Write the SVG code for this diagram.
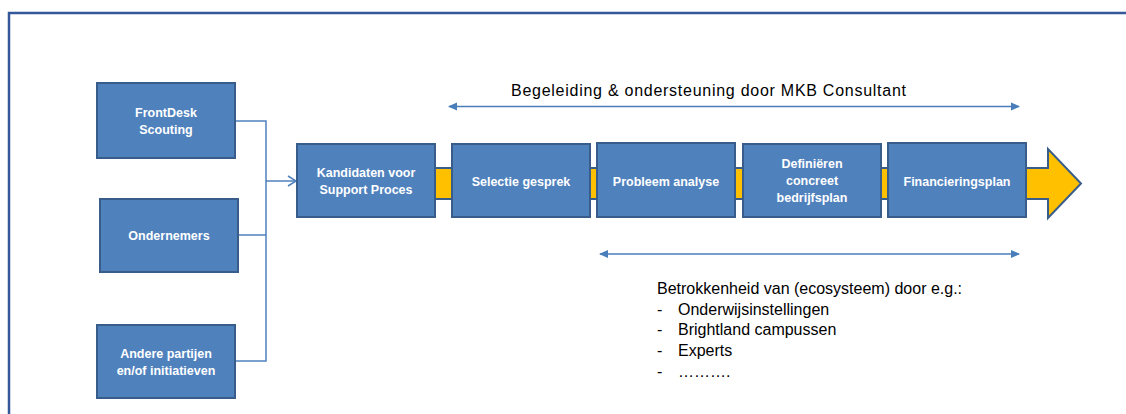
<svg xmlns="http://www.w3.org/2000/svg" width="1126" height="414" viewBox="0 0 1126 414">
<style>
.box{fill:#4f81bd;stroke:#385d8a;stroke-width:2}
.bt{fill:#fff;font-family:"Liberation Sans",Arial,sans-serif;font-weight:bold;font-size:12.5px;text-anchor:middle}
.conn{fill:none;stroke:#4f81bd;stroke-width:1.5}
.da{fill:none;stroke:#4a7ebb;stroke-width:1.5}
.lt{fill:#000;font-family:"Liberation Sans",Arial,sans-serif;font-size:16px}
</style>
<defs>
<marker id="open" markerWidth="10" markerHeight="12" refX="9" refY="6" orient="auto" markerUnits="userSpaceOnUse">
<path d="M1,1 L9,6 L1,11" fill="none" stroke="#4f81bd" stroke-width="1.5"/>
</marker>
<marker id="tri" markerWidth="10" markerHeight="10" refX="8" refY="5" orient="auto-start-reverse" markerUnits="userSpaceOnUse">
<path d="M0,1 L9,5 L0,9 Z" fill="#4a7ebb"/>
</marker>
</defs>
<rect width="1126" height="414" fill="#fff"/>
<path d="M9,414 V13 H1126" fill="none" stroke="#34589a" stroke-width="2.5"/>

<g id="process-arrow">
<path d="M435,168 H1048 V149 L1081,183.5 L1048,218 V199 H435 Z" fill="#ffc000" stroke="#385d8a" stroke-width="2"/>
</g>

<g id="connectors">
<path class="conn" d="M235,121 H266 V361 H235"/>
<path class="conn" d="M238,235 H266"/>
<path class="conn" d="M266,181 H296" marker-end="url(#open)"/>
<path class="da" d="M449,106.5 H1019" marker-start="url(#tri)" marker-end="url(#tri)"/>
<path class="da" d="M600,254 H1019" marker-start="url(#tri)" marker-end="url(#tri)"/>
</g>

<g id="frontdesk">
<rect class="box" x="97" y="83" width="138" height="75"/>
<text class="bt" x="166" y="117">FrontDesk</text>
<text class="bt" x="166" y="134">Scouting</text>
</g>
<g id="ondernemers">
<rect class="box" x="100" y="199" width="138" height="73"/>
<text class="bt" x="169" y="240">Ondernemers</text>
</g>
<g id="andere">
<rect class="box" x="97" y="325" width="138" height="73"/>
<text class="bt" x="166" y="358">Andere partijen</text>
<text class="bt" x="166" y="375">en/of initiatieven</text>
</g>
<g id="kandidaten">
<rect class="box" x="297" y="144" width="138" height="73"/>
<text class="bt" x="366" y="177">Kandidaten voor</text>
<text class="bt" x="366" y="194">Support Proces</text>
</g>
<g id="selectie">
<rect class="box" x="452" y="144" width="138" height="73"/>
<text class="bt" x="521" y="186">Selectie gesprek</text>
</g>
<g id="probleem">
<rect class="box" x="597" y="143" width="138" height="74"/>
<text class="bt" x="666" y="186">Probleem analyse</text>
</g>
<g id="definieren">
<rect class="box" x="743" y="144" width="138" height="73"/>
<text class="bt" x="812" y="168">Definiëren</text>
<text class="bt" x="812" y="185">concreet</text>
<text class="bt" x="812" y="202">bedrijfsplan</text>
</g>
<g id="financiering">
<rect class="box" x="888" y="143" width="138" height="74"/>
<text class="bt" x="957" y="186">Financieringsplan</text>
</g>

<g id="labels">
<text class="lt" x="511" y="96" font-size="18px" textLength="395" lengthAdjust="spacing">Begeleiding &amp; ondersteuning door MKB Consultant</text>
<text class="lt" x="657" y="294">Betrokkenheid van (ecosysteem) door e.g.:</text>
<text class="lt" x="657" y="315">-</text><text class="lt" x="678" y="315">Onderwijsinstellingen</text>
<text class="lt" x="657" y="335">-</text><text class="lt" x="678" y="335">Brightland campussen</text>
<text class="lt" x="657" y="356">-</text><text class="lt" x="678" y="356">Experts</text>
<text class="lt" x="657" y="377">-</text><text class="lt" x="678" y="377">……….</text>
</g>
</svg>
